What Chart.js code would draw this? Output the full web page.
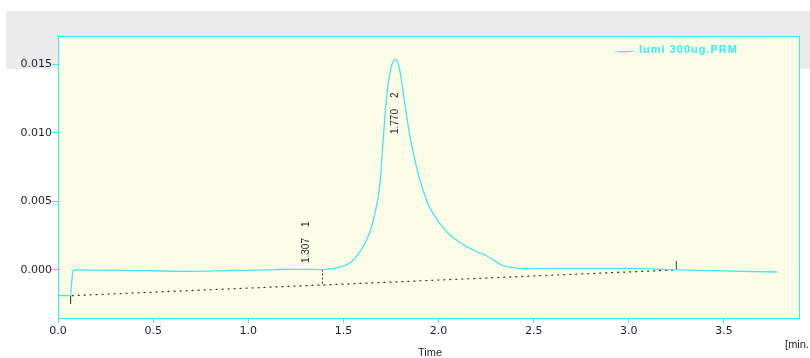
<!DOCTYPE html>
<html>
<head>
<meta charset="utf-8">
<title>lumi 300ug.PRM</title>
<script src="https://cdn.jsdelivr.net/npm/chart.js@4/dist/chart.umd.min.js"></script>
<style>
    html, body { margin: 0; padding: 0; background: #fff; }
    #wrap { width: 810px; height: 358px; }
</style>
</head>
<body>
<div id="wrap"><canvas id="chrom" width="810" height="358"></canvas></div>
<script>
// Chromatogram trace (time in min, signal)
const traceTimes = [
    0, 0.066, 0.072, 0.08, 0.2, 0.35, 0.5, 0.7, 0.9, 1.1, 1.2, 1.3, 1.39, 1.44,
    1.491, 1.543, 1.587, 1.622, 1.648, 1.666, 1.683, 1.696, 1.704, 1.713, 1.724,
    1.736, 1.750, 1.762, 1.776, 1.788, 1.802, 1.818, 1.836, 1.853, 1.876, 1.902,
    1.937, 1.972, 2.007, 2.051, 2.095, 2.148, 2.200, 2.244, 2.288, 2.331, 2.375,
    2.428, 2.5, 2.75, 3.0, 3.25, 3.45, 3.6, 3.78
];
const traceValues = [
    -0.00187, -0.00187, -0.0009, 0.0, -0.00001, -0.00003, -0.00006, -0.0001, -0.00004, 0.0, 0.00005, 0.00004, 0.00003, 0.0001,
    0.00024, 0.0006, 0.00133, 0.00218, 0.00315, 0.00413, 0.00533, 0.00679, 0.0085, 0.0102, 0.0121,
    0.0136, 0.0147, 0.0152, 0.01534, 0.0150, 0.0141, 0.0126, 0.0109, 0.0095, 0.0080, 0.00655,
    0.0051, 0.0041, 0.0034, 0.00267, 0.00218, 0.0017, 0.00133, 0.00109, 0.00073, 0.00036, 0.0002,
    0.00012, 0.0001, 0.00012, 0.00012, 0.0, -0.00005, -0.0001, -0.00015
];

// Integration baseline
const baseTimes = [0.072, 3.25];
const baseValues = [-0.00187, 0.0];

// Peak start / split / end markers
const markStartTimes = [0.066, 0.066];
const markStartValues = [-0.0019, -0.00247];
const markSplitTimes = [1.39, 1.39];
const markSplitValues = [0.00003, -0.00109];
const markEndTimes = [3.25, 3.25];
const markEndValues = [0.0, 0.00066];

// Peak annotations
const peakTimes = [1.307, 1.770];
const peakNumbers = ['1', '2'];
const peakLabelValues = [0.0005, 0.0099];

// Axis ticks
const xTicks = [0.0, 0.5, 1.0, 1.5, 2.0, 2.5, 3.0, 3.5];
const yTicks = [0.000, 0.005, 0.010, 0.015];

const seriesName = 'lumi 300ug.PRM';

const CYAN = '#33f0f0';
const TRACE = '#48e6ee';
const INK = '#1e1e30';

function toPoints(xs, ys) {
    return xs.map(function(x, i) { return { x: x, y: ys[i] }; });
}

// Background band, plot fill and frame
const framePlugin = {
    id: 'frame',
    beforeDraw: function(chart) {
        const c = chart.ctx;
        const a = chart.chartArea;
        c.save();
        c.fillStyle = '#ffffff';
        c.fillRect(0, 0, chart.width, chart.height);
        c.fillStyle = '#ebebeb';
        c.fillRect(6, 11, chart.width - 6, 58);
        c.fillStyle = '#fcfde6';
        c.fillRect(a.left, a.top, a.right - a.left, a.bottom - a.top);
        c.restore();
    },
    afterDraw: function(chart) {
        const c = chart.ctx;
        const a = chart.chartArea;
        c.save();
        c.strokeStyle = CYAN;
        c.lineWidth = 1;
        c.strokeRect(a.left + 0.5, a.top + 0.5, a.right - a.left - 1, a.bottom - a.top);

        // legend
        c.strokeStyle = TRACE;
        c.beginPath();
        c.moveTo(617, 51.5);
        c.lineTo(633, 51.5);
        c.stroke();
        c.fillStyle = '#33eef4';
        c.font = 'bold 11px "Liberation Sans", Arial, sans-serif';
        if ('letterSpacing' in c) c.letterSpacing = '1px';
        c.textAlign = 'left';
        c.textBaseline = 'middle';
        c.fillText(seriesName, 639, 50);
        if ('letterSpacing' in c) c.letterSpacing = '0px';

        // axis titles
        c.fillStyle = INK;
        c.font = '11px "Liberation Sans", Arial, sans-serif';
        c.textAlign = 'center';
        c.fillText('Time', (a.left + a.right) / 2 + 1, 353);
        c.fillText('[min.', 797, 345);
        c.restore();
    }
};

// Rotated retention time labels
const peakLabelPlugin = {
    id: 'peakLabels',
    afterDatasetsDraw: function(chart) {
        const c = chart.ctx;
        const xs = chart.scales.x;
        const ys = chart.scales.y;
        c.save();
        c.fillStyle = INK;
        c.font = '10px "Liberation Sans", Arial, sans-serif';
        c.textAlign = 'left';
        c.textBaseline = 'middle';
        peakTimes.forEach(function(t, i) {
            const px = xs.getPixelForValue(t);
            const py = ys.getPixelForValue(peakLabelValues[i]);
            const rt = t.toFixed(3);
            c.save();
            c.translate(px, py);
            c.rotate(-Math.PI / 2);
            c.fillText(rt, 0, 0);
            c.fillText(peakNumbers[i], c.measureText(rt).width + 11, 0);
            c.restore();
        });
        c.restore();
    }
};

const tickFont = { family: '"DejaVu Sans", Verdana, sans-serif', size: 11 };

const ctx = document.getElementById('chrom').getContext('2d');
new Chart(ctx, {
    type: 'line',
    data: {
        datasets: [
            {
                label: seriesName,
                data: toPoints(traceTimes, traceValues),
                borderColor: TRACE,
                borderWidth: 1.3,
                pointRadius: 0,
                cubicInterpolationMode: 'monotone'
            },
            {
                label: 'baseline',
                data: toPoints(baseTimes, baseValues),
                borderColor: '#333333',
                borderWidth: 1.2,
                borderDash: [2, 4],
                pointRadius: 0
            },
            {
                label: 'start',
                data: toPoints(markStartTimes, markStartValues),
                borderColor: '#444444',
                borderWidth: 1,
                pointRadius: 0
            },
            {
                label: 'split',
                data: toPoints(markSplitTimes, markSplitValues),
                borderColor: '#333333',
                borderWidth: 1,
                borderDash: [2, 2],
                pointRadius: 0
            },
            {
                label: 'end',
                data: toPoints(markEndTimes, markEndValues),
                borderColor: '#444444',
                borderWidth: 1,
                pointRadius: 0
            }
        ]
    },
    options: {
        responsive: false,
        animation: false,
        events: [],
        layout: { padding: { top: 36, right: 10, bottom: 0, left: 0 } },
        plugins: {
            legend: { display: false },
            tooltip: { enabled: false }
        },
        scales: {
            x: {
                type: 'linear',
                min: 0,
                max: 3.9,
                afterBuildTicks: function(s) { s.ticks = xTicks.map(function(v) { return { value: v }; }); },
                afterFit: function(s) { s.height = 40; },
                border: { display: false },
                grid: { drawOnChartArea: false, drawTicks: true, tickLength: 5, tickColor: CYAN },
                ticks: {
                    font: tickFont,
                    color: INK,
                    padding: 2,
                    maxRotation: 0,
                    autoSkip: false,
                    callback: function(v) { return Number(v).toFixed(1); }
                }
            },
            y: {
                type: 'linear',
                min: -0.0035,
                max: 0.01704,
                afterBuildTicks: function(s) { s.ticks = yTicks.map(function(v) { return { value: v }; }); },
                afterFit: function(s) { s.width = 58; },
                border: { display: false },
                grid: { drawOnChartArea: false, drawTicks: true, tickLength: 6, tickColor: CYAN },
                ticks: {
                    font: tickFont,
                    color: INK,
                    padding: 0,
                    autoSkip: false,
                    callback: function(v) { return Number(v).toFixed(3); }
                }
            }
        }
    },
    plugins: [framePlugin, peakLabelPlugin]
});
</script>
</body>
</html>
